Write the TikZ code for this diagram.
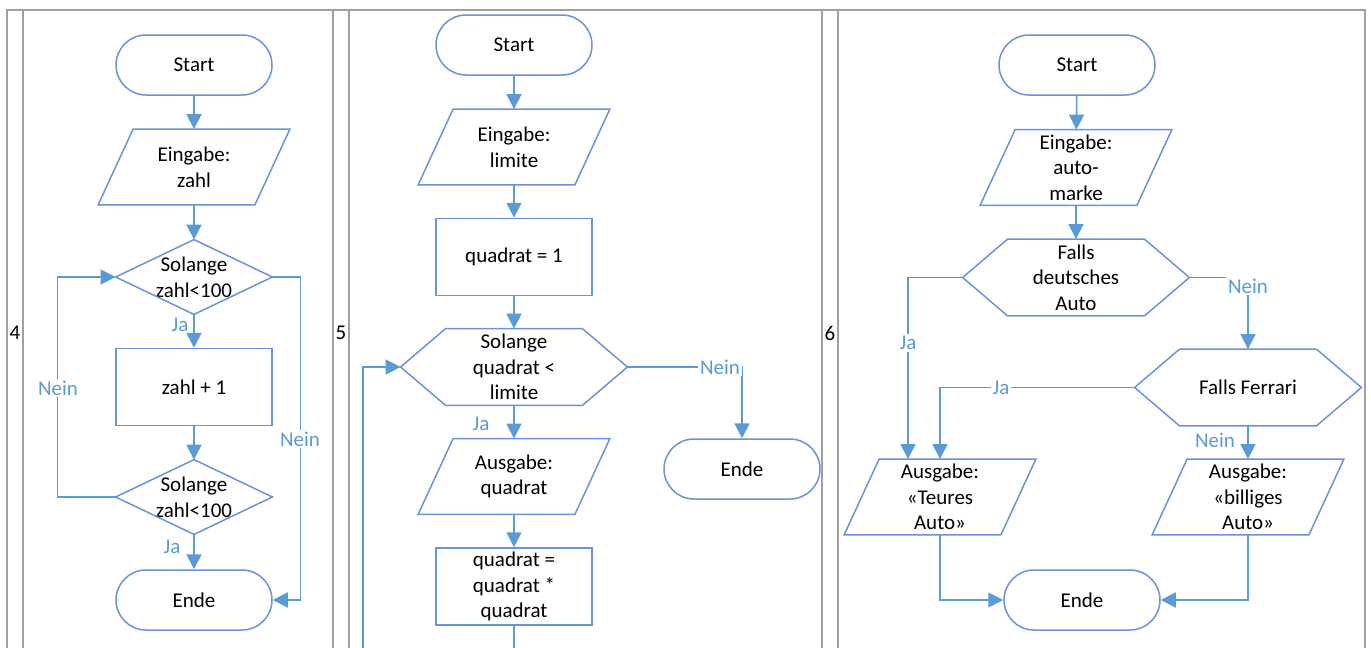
\documentclass[tikz,border=0pt]{standalone}
\usepackage{fontspec}
\setmainfont{Carlito}
\usepackage{tikz}
\usetikzlibrary{arrows.meta}
\definecolor{shapeblue}{HTML}{6A93D9}
\definecolor{lineblue}{HTML}{5B9BD5}
\definecolor{lblblue}{HTML}{5B9BD5}
\definecolor{tablegray}{HTML}{A0A0A0}
\newcommand{\chartfont}{\fontsize{10.5}{12.8}\selectfont}
% outlines drawn round invisible nodes
\newcommand{\ioshape}[1]{\draw[outline] ([xshift=8.75pt]#1.north west) -- ([xshift=8.75pt]#1.north east) -- ([xshift=-8.75pt]#1.south east) -- ([xshift=-8.75pt]#1.south west) -- cycle;}
\newcommand{\hexshape}[1]{\draw[outline] (#1.west) -- ([xshift=22.5pt]#1.north west) -- ([xshift=-22.5pt]#1.north east) -- (#1.east) -- ([xshift=-22.5pt]#1.south east) -- ([xshift=22.5pt]#1.south west) -- cycle;}
\newcommand{\decshape}[1]{\draw[outline] (#1.north) -- (#1.east) -- (#1.south) -- (#1.west) -- cycle;}
\tikzset{
	base/.style = {inner sep=0pt, align=center, font=\chartfont, text=black},
	outline/.style = {draw=shapeblue, line width=.75pt},
	terminal/.style = {base, outline, rounded corners=15pt, minimum width=78pt, minimum height=30pt},
	procbox/.style = {base, outline, minimum width=78pt, minimum height=38.5pt},
	iobox/.style = {base, minimum width=78pt, minimum height=37.5pt},
	hexbox/.style = {base, minimum width=113pt, minimum height=38pt},
	decbox/.style = {base, minimum width=78pt, minimum height=37pt},
	lbl/.style = {font=\chartfont, text=lblblue, inner sep=1pt},
	onl/.style = {lbl, fill=white},
	flow/.style = {draw=lineblue, line width=.8pt, -{Triangle[length=7.5pt,width=7.5pt]}},
	plain/.style = {draw=lineblue, line width=.8pt},
	tabline/.style = {draw=tablegray, line width=.75pt}
}
\begin{document}
\begin{tikzpicture}[x=0.5pt, y=-0.5pt]
	\useasboundingbox (0,0) rectangle (1371,648);
	% table
	\draw[tabline] (7,648) -- (7,10) -- (1365,10) -- (1365,648);
	\foreach \x in {23,333,349,822,838}
		\draw[tabline] (\x,10) -- (\x,648);
	\node[base] (num4) at (15,333) {4};
	\node[base] (num5) at (341,333) {5};
	\node[base] (num6) at (830,333) {6};
	% 4
	\node[terminal] (start4) at (194,65) {Start};
	\node[iobox] (ein4) at (194,167) {Eingabe:\\zahl};
	\node[decbox] (dec4a) at (194,277) {Solange\\zahl<100};
	\node[procbox] (inc4) at (194,387) {zahl + 1};
	\node[decbox] (dec4b) at (194,497) {Solange\\zahl<100};
	\node[terminal] (end4) at (194,600) {Ende};
	\ioshape{ein4}
	\decshape{dec4a}
	\decshape{dec4b}
	\draw[flow] (start4) -- (ein4);
	\draw[flow] (ein4) -- (dec4a);
	\draw[flow] (dec4a) -- (inc4);
	\draw[flow] (inc4) -- (dec4b);
	\draw[flow] (dec4b) -- (end4);
	\draw[flow] (dec4b.west) -- ++(-58,0) |- (dec4a.west);
	\draw[flow] (dec4a.east) -- ++(28,0) |- (end4.east);
	\node[lbl] (ja4a) at (180,325) {Ja};
	\node[lbl] (ja4b) at (172,547) {Ja};
	\node[onl] (nein4a) at (58,388) {Nein};
	\node[onl] (nein4b) at (300,439) {Nein};
	% 5
	\node[terminal] (start5) at (514,45) {Start};
	\node[iobox] (ein5) at (514,147) {Eingabe:\\limite};
	\node[procbox] (init5) at (514,257) {quadrat = 1};
	\node[hexbox] (hex5) at (514,367) {Solange\\quadrat <\\limite};
	\node[iobox] (aus5) at (514,476.5) {Ausgabe:\\quadrat};
	\node[procbox] (mul5) at (514,586.5) {quadrat =\\quadrat *\\quadrat};
	\node[terminal] (end5) at (742,469) {Ende};
	\coordinate (down5) at (514,648);
	\coordinate (loop5) at (363,648);
	\ioshape{ein5}
	\hexshape{hex5}
	\ioshape{aus5}
	\draw[flow] (start5) -- (ein5);
	\draw[flow] (ein5) -- (init5);
	\draw[flow] (init5) -- (hex5);
	\draw[flow] (hex5) -- (aus5);
	\draw[flow] (aus5) -- (mul5);
	\draw[plain] (mul5) -- (down5);
	\draw[flow] (loop5) |- (hex5.west);
	\draw[flow] (hex5.east) -| (end5.north);
	\node[lbl] (ja5) at (481,424) {Ja};
	\node[onl] (nein5) at (720,367) {Nein};
	% 6
	\node[terminal] (start6) at (1077,65) {Start};
	\node[iobox] (ein6) at (1076,167.5) {Eingabe:\\auto-\\marke};
	\node[hexbox] (hex6a) at (1076,277.5) {Falls\\deutsches\\Auto};
	\node[hexbox] (hex6b) at (1248,387.5) {Falls Ferrari};
	\node[iobox] (aus6a) at (940,497) {Ausgabe:\\«Teures\\Auto»};
	\node[iobox] (aus6b) at (1248,497) {Ausgabe:\\«billiges\\Auto»};
	\node[terminal] (end6) at (1082,600) {Ende};
	\ioshape{ein6}
	\hexshape{hex6a}
	\hexshape{hex6b}
	\ioshape{aus6a}
	\ioshape{aus6b}
	\draw[flow] (start6) -- (ein6);
	\draw[flow] (ein6) -- (hex6a);
	\draw[flow] (hex6a.west) -| ([xshift=-16pt]aus6a.north);
	\draw[flow] (hex6a.east) -| (hex6b.north);
	\draw[flow] (hex6b.west) -| (aus6a.north);
	\draw[flow] (hex6b) -- (aus6b);
	\draw[flow] (aus6a.south) |- (end6.west);
	\draw[flow] (aus6b.south) |- (end6.east);
	\node[onl] (ja6a) at (908,343) {Ja};
	\node[onl] (ja6b) at (1001,388) {Ja};
	\node[onl] (nein6a) at (1248,286) {Nein};
	\node[lbl] (nein6b) at (1215,440) {Nein};
\end{tikzpicture}
\end{document}
